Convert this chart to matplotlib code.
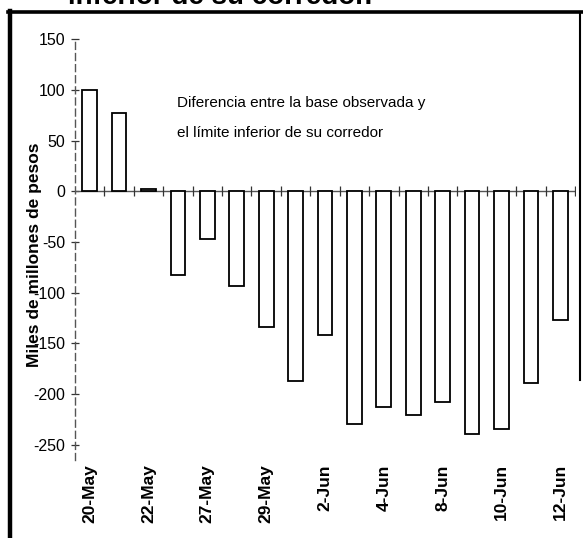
import matplotlib.pyplot as plt
import numpy as np

plt.rcParams['font.family'] = ['Liberation Sans', 'DejaVu Sans']

# daily observations (only every other date is labelled)
dates = ["20-May", "21-May", "22-May", "26-May", "27-May", "28-May", "29-May",
         "1-Jun", "2-Jun", "3-Jun", "4-Jun", "5-Jun", "8-Jun", "9-Jun",
         "10-Jun", "11-Jun", "12-Jun"]
diferencia = [100, 77, 2, -82, -47, -93, -134, -187, -142, -229, -213, -221,
              -208, -239, -234, -189, -127]

y_ticks = [-250, -200, -150, -100, -50, 0, 50, 100, 150]

fig = plt.figure(figsize=(5.83, 5.38), dpi=100)
ax = fig.add_axes([0.1286, 0.145, 0.8577, 0.7816])

x = np.arange(len(dates))
ax.bar(x, diferencia, width=0.5, color="white", edgecolor="black",
       linewidth=1.3, zorder=3)

# zero line with small marks between the categories
ax.axhline(0, color="#555555", linewidth=1.0, zorder=2)
bounds = np.arange(len(dates) + 1) - 0.5
ax.plot(bounds[1:], np.zeros(len(bounds) - 1), ls="none", marker="|",
        markersize=7, color="#333333", markeredgewidth=0.9, zorder=2)

ax.set_xlim(-0.5, len(dates) - 0.5)
ax.set_ylim(-265, 150)

ax.set_xticks(x[::2])
ax.set_xticklabels(dates[::2], rotation=90, fontsize=12.5, fontweight="bold")
ax.tick_params(axis="x", length=0, pad=3)
ax.set_yticks(y_ticks)
ax.set_yticklabels([str(v) for v in y_ticks], fontsize=11.5)
ax.tick_params(axis="y", direction="inout", length=6, width=0.9, pad=4,
               color="#333333")

for s in ["top", "right", "bottom"]:
    ax.spines[s].set_visible(False)
ax.spines["left"].set_color("#555555")
ax.spines["left"].set_linestyle((0, (5, 3)))
ax.spines["left"].set_linewidth(1.0)

ax.text(0.205, 0.865, "Diferencia entre la base observada y\nel límite inferior de su corredor",
        transform=ax.transAxes, fontsize=11, va="top", ha="left",
        linespacing=2.45)

fig.text(35 / 583, 1 - 255 / 538, "Miles de millones de pesos", rotation=90,
         fontsize=12.5, fontweight="bold", ha="center", va="center")

# title cut off by the page border
fig.text(68 / 583, 1 - 4 / 538, "inferior de su corredor.", fontsize=20,
         fontweight="bold", ha="left", va="baseline")

# page frame
fig.add_artist(plt.Line2D([9.5 / 583, 9.5 / 583], [0, 1 - 11 / 538],
                          transform=fig.transFigure, color="black", lw=3.2))
fig.add_artist(plt.Line2D([8 / 583, 1], [1 - 12 / 538, 1 - 12 / 538],
                          transform=fig.transFigure, color="black", lw=2.6))
fig.add_artist(plt.Line2D([580 / 583, 580 / 583], [1 - 380 / 538, 1 - 12 / 538],
                          transform=fig.transFigure, color="black", lw=1.5))

fig.savefig("out.png", dpi=100, facecolor="white")
